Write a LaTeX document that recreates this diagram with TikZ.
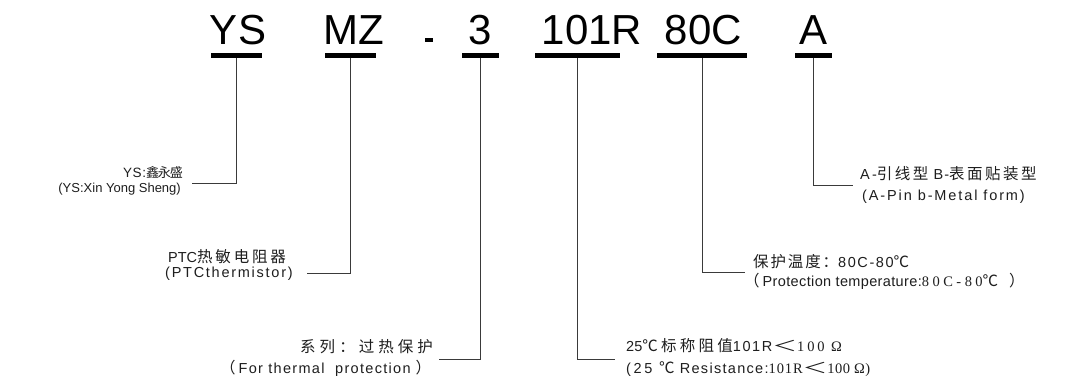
\documentclass[tikz,border=0pt]{standalone}
\usepackage{fontspec}
\setmainfont{Liberation Sans}
\newfontfamily\fsa{Liberation Sans}
\newfontfamily\fsb{Liberation Sans}[LetterSpace=9]
\newfontfamily\fsc{Liberation Sans}[LetterSpace=12]
\newfontfamily\fsd{Liberation Sans}[LetterSpace=13]
\newfontfamily\fse{Liberation Sans}[LetterSpace=2.5]
\newfontfamily\fsf{Liberation Sans}[LetterSpace=15]
\newfontfamily\fsg{Liberation Sans}[LetterSpace=8]
\newfontfamily\fsh{Liberation Sans}[LetterSpace=11]
\newfontfamily\fsi{Liberation Sans}[LetterSpace=18]
\newfontfamily\fsj{Liberation Sans}[LetterSpace=5]
\newfontfamily\fra{Liberation Serif}[LetterSpace=6]
\newfontfamily\frb{Liberation Serif}[LetterSpace=20]
\newfontfamily\frc{Liberation Serif}[LetterSpace=24]
\newfontfamily\frd{Liberation Serif}[LetterSpace=3]
\newfontfamily\fca{Noto Sans CJK SC}
\newfontfamily\fcy{Noto Sans CJK SC}[LetterSpace=-9]
\newfontfamily\fcb{Noto Sans CJK SC}[LetterSpace=18]
\newfontfamily\fcc{Noto Sans CJK SC}[LetterSpace=26]
\newfontfamily\fcd{Noto Sans CJK SC}[LetterSpace=21]
\newfontfamily\fce{Noto Sans CJK SC}[LetterSpace=12]
\newfontfamily\fcf{Noto Sans CJK SC}[LetterSpace=16]
\newcommand\cja[1]{{\fontsize{13}{16}\selectfont\fcy #1}}
\newcommand\cjx[1]{{\fontsize{15.5}{16}\selectfont\fca #1}}
\newcommand\cjb[1]{{\fontsize{15.5}{16}\selectfont\fcb #1}}
\newcommand\cjc[1]{{\fontsize{15.5}{16}\selectfont\fcc #1}}
\newcommand\cjd[1]{{\fontsize{15.5}{16}\selectfont\fcd #1}}
\newcommand\cje[1]{{\fontsize{15.5}{16}\selectfont\fce #1}}
\newcommand\cjf[1]{{\fontsize{15.5}{16}\selectfont\fcf #1}}
\newcommand\wlt{{\fontsize{15.5}{16}\selectfont\fca\scalebox{1.6}[0.95]{＜}}}
\definecolor{ink}{HTML}{1E1E1E}
\definecolor{wire}{HTML}{3A3A3A}
\tikzset{
  big/.style={anchor=base, inner sep=0, text=black, font=\fontsize{42}{48}\selectfont},
  bar/.style={fill=black, draw=none, inner sep=0, minimum height=4.5pt},
  lbl/.style={inner sep=0, text=ink, font=\fontsize{14.5}{16}\selectfont},
  lw/.style={lbl, anchor=base west},
  le/.style={lbl, anchor=base east},
  conn/.style={draw=wire, line width=0.9pt}
}
\begin{document}
\begin{tikzpicture}[x=1pt,y=-1pt]
\fill[white] (0,0) rectangle (1078,379);
\useasboundingbox (0,0) rectangle (1078,379);
% code letters
\node[big] (tYS) at (238,45) {YS};
\node[big] (tMZ) at (354,45) {MZ};
\node[fill=black, inner sep=0, minimum width=8pt, minimum height=4pt] (dash) at (429,40) {};
\node[big] (t3) at (480.5,45) {3};
\node[big] (tR) at (592,45) {101R};
\node[big] (tC) at (703.5,45) {80C};
\node[big] (tA) at (813,45) {A};
% bars
\node[bar, minimum width=51pt] (bYS) at (236,55.5) {};
\node[bar, minimum width=51pt] (bMZ) at (350,55.5) {};
\node[bar, minimum width=37pt] (b3) at (480,55.5) {};
\node[bar, minimum width=85pt] (bR) at (577,55.5) {};
\node[bar, minimum width=90pt] (bC) at (702,55.5) {};
\node[bar, minimum width=37pt] (bA) at (813,55.5) {};
% ends of connectors
\coordinate (eYS) at (192,183);
\coordinate (eMZ) at (307,273);
\coordinate (e3) at (439,359);
\coordinate (eR) at (615,359);
\coordinate (eC) at (745,272);
\coordinate (eA) at (853,185);
\draw[conn] (bYS.south) |- (eYS);
\draw[conn] (bMZ.south) |- (eMZ);
\draw[conn] (b3.south) |- (e3);
\draw[conn] (bR.south) |- (eR);
\draw[conn] (bC.south) |- (eC);
\draw[conn] (bA.south) |- (eA);
% labels
\node[le, font=\fontsize{13.5}{16}\selectfont] (lYS1) at (183,178) {{\fsj YS:}\cja{鑫永盛}};
\node[le, font=\fontsize{13}{16}\selectfont] (lYS2) at (181,193) {\fsa (YS:Xin Yong Sheng)};
\node[lw] (lMZ1) at (168,262) {{\fsa PTC}\cjb{热敏电阻器}};
\node[lw] (lMZ2) at (165,277) {\fsc (PTCthermistor)};
\node[lw] (l31) at (300,352) {\cjc{系列：过热保护}};
\node[lw] (l32) at (220,373) {\cjx{（}\hspace{3pt}{\fsb For thermal\ \ protection}\hspace{5pt}\cjx{）}};
\node[lw] (lR1) at (626,351) {{\fsa 25}\cjd{℃标称阻值}{\fsh 101R}\wlt{\frb 100 Ω}};
\node[lw] (lR2) at (626,373) {{\fsi (25 }\cjx{℃}{\fsb\ Resistance:}{\fra 101R}\wlt{\frd 100 Ω)}};
\node[lw] (lC1) at (753,267) {\cje{保护温度：}{\fsh 80C-80}\cjx{℃}};
\node[lw] (lC2) at (744,287) {\cjx{（}\hspace{3pt}{\fse Protection temperature:}{\frc 80C-80}\cjx{℃}\hspace{11pt}\cjx{）}};
\node[lw] (lA1) at (860,180) {{\fsf A-}\cjf{引线型}{\fsg\ B-}\cjf{表面贴装型}};
\node[lw] (lA2) at (862,201) {\fsd (A-Pin b-Metal form)};
\end{tikzpicture}
\end{document}
